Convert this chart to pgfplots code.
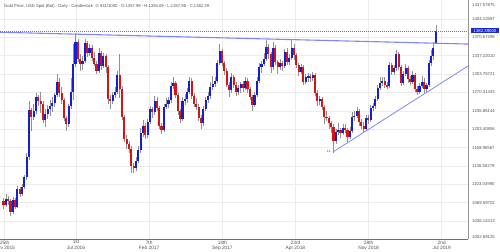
\documentclass[border=0pt]{standalone}
\usepackage{pgfplots}
\pgfplotsset{compat=1.18}
\usepackage{pgfplotstable}
\usepackage{fontspec}
\setmainfont{Liberation Sans}
\newfontfamily\symfont{DejaVu Sans}
\definecolor{upc}{RGB}{20,30,215}
\definecolor{dnc}{RGB}{215,20,20}
\definecolor{wick}{RGB}{145,145,145}
\definecolor{trend}{RGB}{125,135,250}
\definecolor{gridc}{RGB}{236,236,236}
\definecolor{txt}{RGB}{80,80,80}
\definecolor{boxc}{RGB}{25,40,200}

\pgfplotstableread{
w o h l c
0 1072 1078 1058 1066
1 1066 1085 1062 1076
2 1076 1082 1066 1072
3 1072 1076 1046 1052
4 1052 1080 1049 1075
5 1075 1078 1058 1061
6 1061 1100 1060 1094
7 1094 1099 1080 1086
8 1086 1104 1082 1098
9 1098 1120 1094 1116
10 1116 1160 1110 1152
11 1152 1254 1148 1238
12 1238 1242 1200 1226
13 1226 1250 1220 1236
14 1236 1270 1232 1262
15 1262 1266 1246 1254
16 1254 1272 1232 1250
17 1250 1254 1214 1221
18 1221 1240 1208 1231
19 1231 1248 1222 1240
20 1240 1256 1228 1246
21 1246 1262 1234 1251
22 1251 1270 1244 1266
23 1266 1304 1262 1290
24 1290 1296 1262 1270
25 1270 1280 1250 1256
26 1256 1260 1218 1224
27 1224 1228 1200 1212
28 1212 1250 1208 1246
29 1246 1296 1240 1272
30 1272 1358 1256 1322
31 1322 1378 1316 1362
32 1362 1368 1326 1332
33 1332 1340 1310 1322
34 1322 1336 1312 1328
35 1328 1368 1324 1360
36 1360 1364 1334 1342
37 1342 1358 1336 1352
38 1352 1356 1328 1334
39 1334 1344 1318 1322
40 1322 1328 1304 1310
41 1310 1352 1306 1342
42 1342 1346 1312 1318
43 1318 1342 1314 1336
44 1336 1340 1306 1316
45 1316 1320 1250 1258
46 1258 1266 1240 1254
47 1254 1272 1250 1266
48 1266 1280 1260 1272
49 1272 1310 1268 1302
50 1302 1340 1260 1276
51 1276 1282 1220 1226
52 1226 1230 1180 1186
53 1186 1192 1168 1176
54 1176 1182 1160 1168
55 1168 1172 1124 1136
56 1136 1142 1124 1132
57 1132 1152 1128 1146
58 1146 1172 1142 1166
59 1166 1206 1160 1196
60 1196 1220 1190 1210
61 1210 1214 1186 1192
62 1192 1222 1188 1216
63 1216 1246 1212 1240
64 1240 1244 1224 1234
65 1234 1264 1230 1254
66 1254 1262 1236 1242
67 1242 1246 1204 1210
68 1210 1214 1194 1202
69 1202 1250 1198 1244
70 1244 1260 1240 1250
71 1250 1262 1242 1256
72 1256 1290 1252 1282
73 1282 1298 1276 1288
74 1288 1292 1260 1266
75 1266 1270 1230 1236
76 1236 1240 1214 1222
77 1222 1262 1218 1254
78 1254 1268 1248 1258
79 1258 1278 1252 1272
80 1272 1298 1268 1292
81 1292 1296 1258 1264
82 1264 1270 1244 1250
83 1250 1260 1238 1244
84 1244 1250 1218 1224
85 1224 1230 1204 1214
86 1214 1246 1210 1240
87 1240 1262 1236 1256
88 1256 1272 1252 1264
89 1264 1290 1258 1280
90 1280 1300 1274 1286
91 1286 1298 1280 1292
92 1292 1330 1288 1324
93 1324 1358 1320 1346
94 1346 1350 1318 1324
95 1324 1328 1302 1310
96 1310 1314 1280 1284
97 1284 1290 1262 1274
98 1274 1306 1270 1298
99 1298 1302 1278 1284
100 1284 1290 1264 1272
101 1272 1284 1266 1278
102 1278 1290 1270 1286
103 1286 1292 1272 1278
104 1278 1298 1274 1292
105 1292 1296 1270 1276
106 1276 1280 1256 1262
107 1262 1266 1236 1248
108 1248 1272 1244 1266
109 1266 1298 1262 1292
110 1292 1324 1288 1316
111 1316 1328 1306 1322
112 1322 1342 1318 1332
113 1332 1366 1328 1354
114 1354 1358 1332 1340
115 1340 1344 1306 1316
116 1316 1362 1312 1352
117 1352 1356 1320 1326
118 1326 1330 1304 1316
119 1316 1332 1312 1324
120 1324 1328 1310 1318
121 1318 1350 1314 1344
122 1344 1352 1320 1326
123 1326 1340 1320 1334
124 1334 1366 1330 1352
125 1352 1358 1330 1338
126 1338 1342 1314 1320
127 1320 1324 1300 1308
128 1308 1322 1304 1316
129 1316 1320 1284 1290
130 1290 1304 1286 1298
131 1298 1306 1290 1300
132 1300 1304 1290 1296
133 1296 1308 1292 1302
134 1302 1306 1264 1270
135 1270 1274 1246 1254
136 1254 1264 1248 1258
137 1258 1262 1238 1244
138 1244 1248 1212 1226
139 1226 1236 1218 1224
140 1224 1228 1204 1214
141 1214 1218 1196 1208
142 1208 1212 1160 1182
143 1182 1204 1176 1198
144 1198 1214 1192 1202
145 1202 1206 1188 1196
146 1196 1212 1192 1206
147 1206 1212 1196 1202
148 1202 1206 1180 1190
149 1190 1208 1186 1200
150 1200 1234 1196 1226
151 1226 1236 1218 1228
152 1228 1244 1224 1236
153 1236 1240 1210 1216
154 1216 1222 1204 1210
155 1210 1216 1196 1204
156 1204 1230 1200 1224
157 1224 1230 1212 1220
158 1220 1248 1216 1242
159 1242 1252 1236 1246
160 1246 1264 1240 1258
161 1258 1284 1254 1278
162 1278 1298 1274 1288
163 1288 1298 1282 1292
164 1292 1298 1278 1284
165 1284 1290 1276 1282
166 1282 1326 1278 1320
167 1320 1324 1302 1308
168 1308 1320 1302 1314
169 1314 1348 1310 1340
170 1340 1344 1312 1316
171 1316 1320 1282 1288
172 1288 1310 1284 1304
173 1304 1322 1300 1314
174 1314 1318 1288 1294
175 1294 1300 1284 1290
176 1290 1310 1286 1302
177 1302 1306 1272 1276
178 1276 1282 1266 1272
179 1272 1288 1268 1282
180 1282 1300 1278 1290
181 1290 1296 1270 1276
182 1276 1288 1272 1284
183 1284 1330 1280 1324
184 1324 1348 1318 1336
185 1336 1362 1330 1352
186 1357.99 1394.09 1357.96 1382.39
}\gold

\begin{document}
\begin{tikzpicture}
\begin{axis}[at={(0,0)}, anchor=south west, scale only axis,
  width=468bp, height=239bp,
  xmin=-1.506, xmax=199.87, ymin=1003.4, ymax=1438.74,
  axis x line*=bottom, axis y line*=right,
  x axis line style={draw={rgb,255:red,110;green,110;blue,110}, line width=0.6bp},
  y axis line style={draw={rgb,255:red,150;green,150;blue,150}, line width=0.5bp},
  major tick length=0pt,
  xtick={0.5,31.2,62.65,94.2,125.6,157.1,188.55},
  xticklabels={{25th\\Nov 2015},{1st\\Jul 2016},{7th\\Feb 2017},{14th\\Sep 2017},{23rd\\Apr 2018},{28th\\Nov 2018},{2nd\\Jul 2019}},
  xticklabel style={align=center, font=\fontsize{4.8}{5.6}\selectfont, text=txt, inner sep=0pt, yshift=-1.5bp},
  ytick={1036.14413,1069.59702,1103.04990,1136.50279,1169.95567,1203.40856,1236.86144,1270.31433,1303.76721,1337.22010,1370.67298,1404.12587},
  yticklabels={1036.14413,1069.59702,1103.04990,1136.50279,1169.95567,1203.40856,1236.86144,1270.31433,1303.76721,1337.22010,1370.67298,1404.12587},
  yticklabel style={font=\fontsize{4.3}{5}\selectfont, text=txt, anchor=west, inner sep=0pt, xshift=4bp},
  grid=major, grid style={gridc, line width=0.5bp},
  clip mode=individual,
]
% wicks
\addplot[draw=none, mark=none, error bars/.cd, y dir=both, y explicit, error mark=none,
  error bar style={draw=wick, line width=0.5bp}]
  table[x=w, y expr={(\thisrow{h}+\thisrow{l})/2}, y error expr={(\thisrow{h}-\thisrow{l})/2}] {\gold};
% up bodies
\addplot[draw=none, mark=none, restrict expr to domain={\thisrow{c}-\thisrow{o}}{0:1000},
  error bars/.cd, y dir=both, y explicit, error mark=none,
  error bar style={draw=upc, line width=2.1bp}]
  table[x=w, y expr={(\thisrow{o}+\thisrow{c})/2}, y error expr={abs(\thisrow{c}-\thisrow{o})/2}] {\gold};
% down bodies
\addplot[draw=none, mark=none, restrict expr to domain={\thisrow{c}-\thisrow{o}}{-1000:0},
  error bars/.cd, y dir=both, y explicit, error mark=none,
  error bar style={draw=dnc, line width=2.1bp}]
  table[x=w, y expr={(\thisrow{o}+\thisrow{c})/2}, y error expr={abs(\thisrow{c}-\thisrow{o})/2}] {\gold};
% trend lines
\addplot[trend, line width=1.1bp] coordinates {(-1.506,1380) (199.87,1358.5)};
\addplot[trend, line width=0.8bp] coordinates {(141.8,1162) (199.87,1318.5)};
% last price line
\addplot[draw={rgb,255:red,120;green,120;blue,120}, line width=0.4bp, dash pattern=on 0.8bp off 1.2bp] coordinates {(-1.506,1382.39) (199.87,1382.39)};

\node[anchor=east, font=\fontsize{3.6}{4}\selectfont, text=txt, inner sep=0pt] at ([xshift=-2bp,yshift=1bp]axis cs:141.8,1162) {L1};
\node[anchor=west, fill=boxc, text=white, font=\fontsize{4.3}{5}\selectfont, inner xsep=3bp, inner ysep=1bp] at ([xshift=2.5bp]axis cs:199.87,1382.39) {1382.39000};
\node[anchor=west, font=\fontsize{4.3}{5}\selectfont, text=txt, inner sep=0pt] at ([xshift=4bp,yshift=-5bp]rel axis cs:1,1) {1437.57875};
\node[anchor=west, font=\fontsize{4.3}{5}\selectfont, text=txt, inner sep=0pt] at ([xshift=4bp,yshift=2.3bp]rel axis cs:1,0) {1002.69125};
\node[anchor=west, font=\fontsize{4.2}{5}\selectfont, text=txt, inner sep=0pt] at ([xshift=4bp,yshift=-6.5bp]rel axis cs:0,1) {Gold Price, USD Spot (Bid) - Daily - Candlestick \ {\symfont ⊙}\ 931/1000 - O:1357.99 - H:1394.09 - L:1357.96 - C:1382.39};
\end{axis}
\pgfresetboundingbox
\path (0,-13bp) rectangle (500bp,239bp);
\end{tikzpicture}
\end{document}
